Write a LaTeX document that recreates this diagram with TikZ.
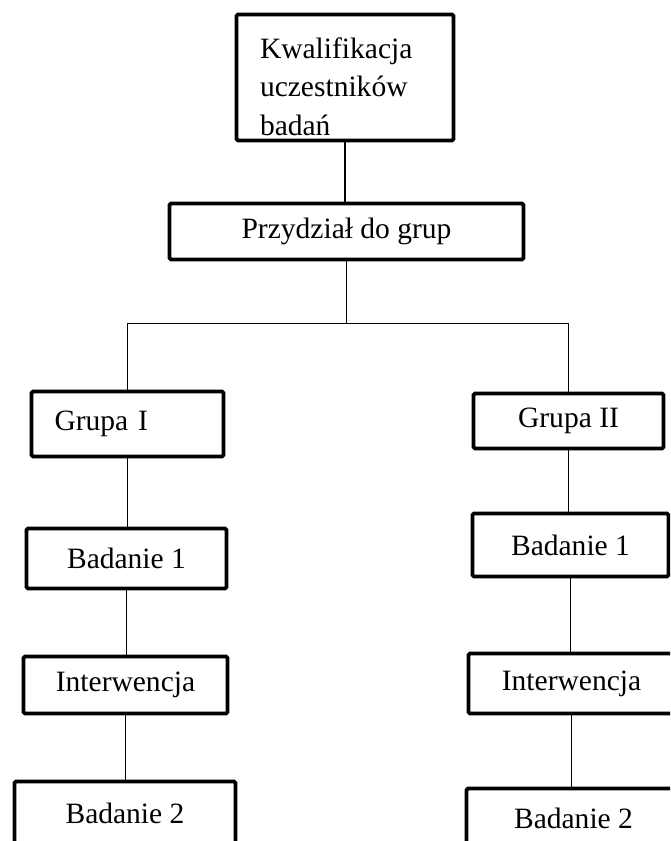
\documentclass[tikz,border=0pt]{standalone}
\usepackage{fontspec}
\setmainfont{Liberation Serif}
\usetikzlibrary{positioning, calc}
\tikzset{box/.style={draw, line width=2.1pt, rounded corners=0.8pt, inner sep=0pt, font=\fontsize{16.8}{21}\selectfont}}
\tikzset{link/.style={line width=0.7pt}}

\begin{document}
\begin{tikzpicture}[x=0.02cm, y=-0.02cm]

      \useasboundingbox (0,0) rectangle (670,841);
      \clip (0,0) rectangle (670,841);

      % TOP BOXES

      \node[box, font=\fontsize{16.8}{21.8}\selectfont, text width=3.4cm, align=left, inner xsep=0.47cm, minimum height=2.52cm] (kwal) at (345,77.5) {\rule{0pt}{0.78cm}Kwalifikacja\\uczestników\\badań};
      \node[box, minimum width=7.08cm, minimum height=1.12cm] (przydz) at (346.5,231.5) {Przydział do grup};

      % GROUP I

      \node[box, text width=2.92cm, align=left, inner xsep=0.46cm, minimum height=1.30cm] (grupaI) at (127.5,424) {Grupa I};
      \node[box, minimum width=4.00cm, minimum height=1.20cm] (badL1) at (126.5,558.5) {Badanie 1};
      \node[box, minimum width=4.08cm, minimum height=1.14cm] (intL) at (125.5,685) {Interwencja};
      \node[box, minimum width=4.42cm, minimum height=1.28cm] (badL2) at (125,813.5) {Badanie 2};

      % GROUP II

      \node[box, minimum width=3.80cm, minimum height=1.10cm] (grupaII) at (568.5,421) {Grupa II};
      \node[box, minimum width=3.92cm, minimum height=1.26cm] (badR1) at (570.5,545) {Badanie 1};
      \node[box, minimum width=4.12cm, minimum height=1.20cm] (intR) at (571.5,683.5) {Interwencja};
      \node[box, minimum width=4.28cm, minimum height=1.20cm] (badR2) at (573.5,818.5) {Badanie 2};

      % LINKS

      \coordinate (split) at ($(przydz.south)+(0,62)$);
      \draw[link] (kwal.south) -- (kwal.south |- przydz.north);
      \draw[link] (przydz.south) -- (split);
      \draw[link] (grupaI.north) |- (split) -| (grupaII.north);

      \draw[link] (grupaI.south) -- (grupaI.south |- badL1.north);
      \draw[link] (badL1.south) -- (badL1.south |- intL.north);
      \draw[link] (intL.south) -- (intL.south |- badL2.north);

      \draw[link] (grupaII.south) -- (grupaII.south |- badR1.north);
      \draw[link] (badR1.south) -- (badR1.south |- intR.north);
      \draw[link] (intR.south) -- (intR.south |- badR2.north);
    \end{tikzpicture}
\end{document}
